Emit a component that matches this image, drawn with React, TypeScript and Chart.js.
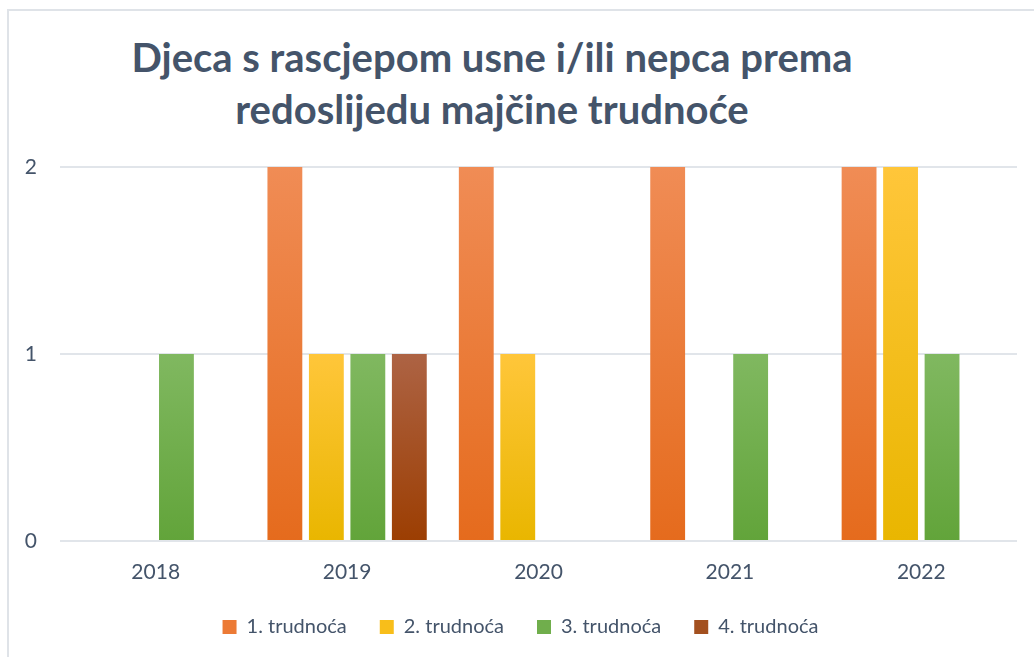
import React, { useEffect, useRef } from "react";
import { Chart, registerables } from "chart.js";

Chart.register(...registerables);

const categories = ["2018", "2019", "2020", "2021", "2022"];
const seriesLabels = ["1. trudnoća", "2. trudnoća", "3. trudnoća", "4. trudnoća"];
const series1 = [0, 2, 2, 2, 2];
const series2 = [0, 1, 1, 0, 2];
const series3 = [1, 1, 0, 1, 1];
const series4 = [0, 1, 0, 0, 0];
const yTickValues = [0, 1, 2];
const titleLines = ["Djeca s rascjepom usne i/ili nepca prema", "redoslijedu majčine trudnoće"];

const topColors = ["#F08C55", "#FFC63A", "#80B860", "#AD6344"];
const bottomColors = ["#E56B1D", "#E9B600", "#62A43A", "#9C3E02"];
const legendColors = ["#EC7A35", "#F8BE1A", "#70AE4C", "#A3501F"];

const TEXT = "#44546A";
const GRID = "#E1E5EA";
const FONT = "Lato, 'Open Sans', sans-serif";

function gradientFor(i: number) {
  return (ctx: any) => {
    const chart = ctx.chart;
    const v = ctx.raw;
    const ys = chart.scales?.y;
    if (ctx.type !== "data" || !v || !ys) return legendColors[i];
    const top = ys.getPixelForValue(v);
    const bot = ys.getPixelForValue(0);
    const g = chart.ctx.createLinearGradient(0, top, 0, bot);
    g.addColorStop(0, topColors[i]);
    g.addColorStop(1, bottomColors[i]);
    return g;
  };
}

export default function App() {
  const ref = useRef<HTMLCanvasElement | null>(null);

  useEffect(() => {
    document.body.style.margin = "0";
    if (!ref.current) return;
    const data = [series1, series2, series3, series4];
    const chart = new Chart(ref.current, {
      type: "bar",
      data: {
        labels: categories,
        datasets: data.map((d, i) => ({
          label: seriesLabels[i],
          data: d,
          backgroundColor: gradientFor(i),
          borderWidth: 0,
          categoryPercentage: 0.867,
          barPercentage: 0.84,
        })),
      },
      options: {
        animation: false,
        responsive: false,
        maintainAspectRatio: false,
        layout: { padding: { top: 156, right: 17, left: 15, bottom: 0 } },
        plugins: {
          title: { display: false },
          tooltip: { enabled: false },
          legend: {
            display: true,
            position: "bottom",
            labels: {
              boxWidth: 14,
              boxHeight: 14,
              padding: 33,
              color: TEXT,
              font: { family: FONT, size: 20 },
              generateLabels: () =>
                seriesLabels.map((t, i) => ({
                  text: t,
                  fillStyle: legendColors[i],
                  strokeStyle: legendColors[i],
                  lineWidth: 0,
                  hidden: false,
                  datasetIndex: i,
                  fontColor: TEXT,
                })),
            },
          },
        },
        scales: {
          x: {
            grid: { display: false, drawTicks: false },
            border: { display: false },
            ticks: { color: TEXT, font: { family: FONT, size: 21 }, padding: 19 },
            afterFit: (s: any) => {
              s.height = 43;
            },
          },
          y: {
            min: 0,
            max: 2,
            afterBuildTicks: (s: any) => {
              s.ticks = yTickValues.map((v) => ({ value: v }));
            },
            grid: { color: GRID, lineWidth: 2, drawTicks: false },
            border: { display: false },
            ticks: { color: TEXT, font: { family: FONT, size: 21 }, padding: 23 },
            afterFit: (s: any) => {
              s.width = 36;
            },
          },
        },
      },
    });
    return () => chart.destroy();
  }, []);

  return (
    <div style={{ position: "relative", width: 1034, height: 657, overflow: "hidden", background: "#fff" }}>
      <div
        style={{
          position: "absolute",
          left: 7,
          top: 9,
          width: 1200,
          height: 1000,
          border: "2px solid #DFE3E8",
          boxSizing: "border-box",
        }}
      />
      <div
        style={{
          position: "absolute",
          left: 0,
          top: 31,
          width: 984,
          textAlign: "center",
          fontFamily: FONT,
          fontWeight: 700,
          fontSize: 40,
          lineHeight: "52px",
          color: TEXT,
        }}
      >
        {titleLines.map((l, i) => (
          <div key={i}>{l}</div>
        ))}
      </div>
      <canvas
        ref={ref}
        width={1025}
        height={636}
        style={{ position: "absolute", left: 9, top: 11, width: 1025, height: 636 }}
      />
    </div>
  );
}
